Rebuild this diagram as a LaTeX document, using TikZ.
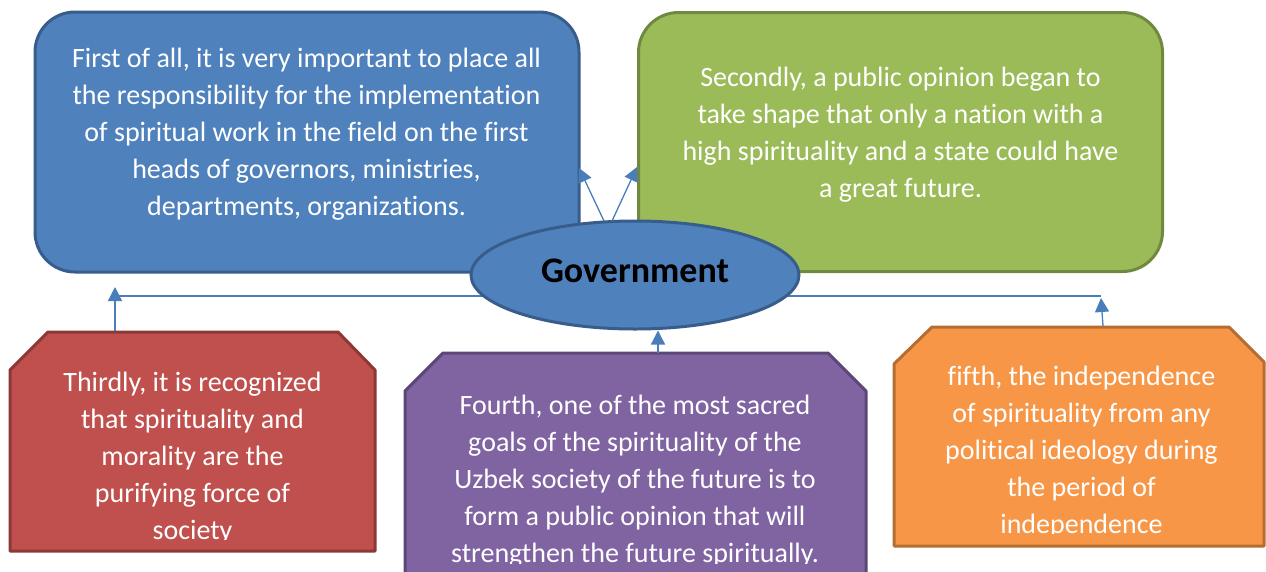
\documentclass[tikz,border=0pt]{standalone}
\usepackage{fontspec}
\setmainfont{Carlito}[Ligatures=NoCommon]
\usetikzlibrary{arrows.meta,shapes.geometric}
\definecolor{bluefill}{HTML}{4F81BD}
\definecolor{blueline}{HTML}{385D8A}
\definecolor{greenfill}{HTML}{9BBB59}
\definecolor{greenline}{HTML}{71893F}
\definecolor{redfill}{HTML}{C0504D}
\definecolor{redline}{HTML}{8C3836}
\definecolor{purplefill}{HTML}{8064A2}
\definecolor{purpleline}{HTML}{5C4776}
\definecolor{orangefill}{HTML}{F79646}
\definecolor{orangeline}{HTML}{B66D31}
\definecolor{connc}{HTML}{4A7EBB}
\tikzset{
  shapebox/.style={line width=3pt, line join=round},
  rbox/.style={shapebox, rounded corners=40pt, inner sep=0pt},
  txt/.style={text=white, align=center, inner sep=0pt, font=\fontsize{28}{37}\selectfont},
  conn/.style={draw=connc, line width=1.3pt},
  arr/.style={conn, -{Triangle[length=14pt,width=14pt]}},
}
\begin{document}
\begin{tikzpicture}[x=1pt,y=-1pt]
\clip (0,0) rectangle (1266,571);
\fill[white] (0,0) rectangle (1266,571);
% top boxes
\node[rbox, fill=bluefill, draw=blueline, minimum width=544pt, minimum height=260pt] (first) at (307,142) {};
\node[rbox, fill=greenfill, draw=greenline, minimum width=524pt, minimum height=259pt] (second) at (900.5,142) {};
\node[txt] (firsttxt) at (306.5,134.3) {First of all, it is very important to place all\\the responsibility for the implementation\\of spiritual work in the field on the first\\heads of governors, ministries,\\departments, organizations.};
\node[txt] (secondtxt) at (900.5,134.8) {Secondly, a public opinion began to\\take shape that only a nation with a\\high spirituality and a state could have\\a great future.};
% bottom snipped boxes
\draw[shapebox, fill=redfill, draw=redline] (10,551) -- (10,370) -- (48,332) -- (338,332) -- (375,370) -- (375,551) -- cycle;
\draw[shapebox, fill=purplefill, draw=purpleline] (405,600) -- (405,391) -- (443,353) -- (828,353) -- (866,391) -- (866,600) -- cycle;
\draw[shapebox, fill=orangefill, draw=orangeline] (894,546) -- (894,364) -- (932,327) -- (1229,327) -- (1264,362) -- (1264,546) -- cycle;
\coordinate (redtop) at (115,331);
\coordinate (redtip) at (115,287);
\coordinate (purpletop) at (658,353);
\coordinate (orangetop) at (1103,326);
\coordinate (orangetip) at (1101,298);
\coordinate (elbowL) at (115,296);
\coordinate (elbowR) at (1101,296);
\begin{scope}
\clip (10,0) rectangle (375,539);
\node[txt] (thirdtxt) at (192.5,458) {Thirdly, it is recognized\\that spirituality and\\morality are the\\purifying force of\\society};
\end{scope}
\begin{scope}
\clip (405,0) rectangle (866,563);
\node[txt] (fourthtxt) at (635,481.5) {Fourth, one of the most sacred\\goals of the spirituality of the\\Uzbek society of the future is to\\form a public opinion that will\\strengthen the future spiritually.};
\end{scope}
\begin{scope}
\clip (894,0) rectangle (1264,533);
\node[txt] (fifthtxt) at (1081.5,452) {fifth, the independence\\of spirituality from any\\political ideology during\\the period of\\independence};
\end{scope}
% horizontal connector (behind ellipse)
\draw[conn] (elbowL) -- (elbowR);
% ellipse
\node[ellipse, fill=bluefill, draw=blueline, line width=3pt, minimum width=328pt, minimum height=108pt, inner sep=0pt, text depth=8pt, font=\fontsize{36}{40}\selectfont\bfseries] (gov) at (635,275) {Government};
\coordinate (govtopL) at (604,221);
\coordinate (govtopR) at (612,221);
\coordinate (firsttip) at (579,168);
\coordinate (secondtip) at (637,167);
% arrows
\draw[arr] (redtop) -- (redtip);
\draw[arr] (orangetop) -- (orangetip);
\draw[arr] (purpletop) -- (gov.south -| purpletop);
\draw[arr] (govtopL) -- (firsttip);
\draw[arr] (govtopR) -- (secondtip);
\end{tikzpicture}
\end{document}
